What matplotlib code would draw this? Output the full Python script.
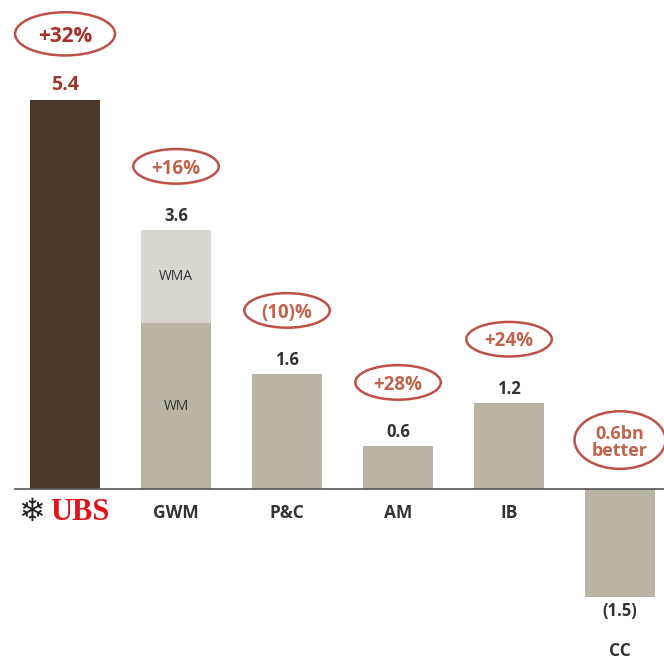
import matplotlib
matplotlib.use("Agg")
import matplotlib.pyplot as plt
from matplotlib.patches import Ellipse

# data
categories = ["UBS", "GWM", "P&C", "AM", "IB", "CC"]
values = [5.4, 3.6, 1.6, 0.6, 1.2, -1.5]
value_labels = ["5.4", "3.6", "1.6", "0.6", "1.2", "(1.5)"]
gwm_wm = 2.3
gwm_wma = 1.3
changes = ["+32%", "+16%", "(10)%", "+28%", "+24%", "0.6bn\nbetter"]

DARK = "#4b3a2c"
TAUPE = "#bab4a4"
LIGHT = "#d9d6d0"
RED = "#bf4f47"
TXT_RED = "#c0644c"

plt.rcParams["font.family"] = ["Open Sans", "DejaVu Sans"]

fig = plt.figure(figsize=(6.64, 6.59), dpi=100)
ax = fig.add_axes([0, 0, 1, 1])
ax.set_xlim(-0.586, 5.396)
ax.set_ylim(-2.36, 6.79)
ax.axis("off")

w = 0.63

# bars
ax.bar(0, values[0], width=w, color=DARK)
ax.bar(1, gwm_wm, width=w, color=TAUPE)
ax.bar(1, gwm_wma, bottom=gwm_wm, width=w, color=LIGHT)
for i in range(2, 6):
    ax.bar(i, values[i], width=w, color=TAUPE)

ax.text(1, gwm_wm / 2, "WM", ha="center", va="center", fontsize=10, color="#333333")
ax.text(1, gwm_wm + gwm_wma / 2, "WMA", ha="center", va="center", fontsize=10, color="#333333")

# baseline
ax.plot([-0.45, 5.4], [0, 0], color="#555555", lw=1.2)

# value labels
for i, (v, lbl) in enumerate(zip(values, value_labels)):
    if i == 0:
        ax.text(i, v + 0.07, lbl, ha="center", va="bottom", fontsize=14,
                fontweight="bold", color="#9a3a2a")
    elif v >= 0:
        ax.text(i, v + 0.07, lbl, ha="center", va="bottom", fontsize=12,
                fontweight="bold", color="#333333")
    else:
        ax.text(i, v - 0.07, lbl, ha="center", va="top", fontsize=12,
                fontweight="bold", color="#333333")

# category labels
for i, c in enumerate(categories):
    if c == "UBS":
        ax.text(i - 0.13, -0.33, "UBS", ha="left", va="center", fontsize=22,
                family="Liberation Serif", fontweight="bold", color="#e0121a")
        ax.text(i - 0.3, -0.33, "\u2744", ha="center", va="center", fontsize=23,
                family="DejaVu Sans", color="#222222")
    elif values[i] >= 0:
        ax.text(i, -0.33, c, ha="center", va="center", fontsize=12.5,
                fontweight="bold", color="#333333")
    else:
        ax.text(i, values[i] - 0.75, c, ha="center", va="center", fontsize=12.5,
                fontweight="bold", color="#333333")

# change ellipses
for i, (v, ch) in enumerate(zip(values, changes)):
    if i == 0:
        cy, ew, eh, fs, col = v + 0.92, 0.9, 0.6, 15, "#a8302a"
    elif v < 0:
        cy, ew, eh, fs, col = 0.68, 0.82, 0.8, 13, TXT_RED
    else:
        cy, ew, eh, fs, col = v + 0.88, 0.77, 0.48, 13.5, TXT_RED
    ax.add_patch(Ellipse((i, cy), ew, eh, fill=False, ec=RED, lw=1.8))
    ax.text(i, cy - 0.03, ch, ha="center", va="center", fontsize=fs, fontweight="bold",
            color=col, linespacing=0.95)

fig.savefig("out.png", dpi=100)
